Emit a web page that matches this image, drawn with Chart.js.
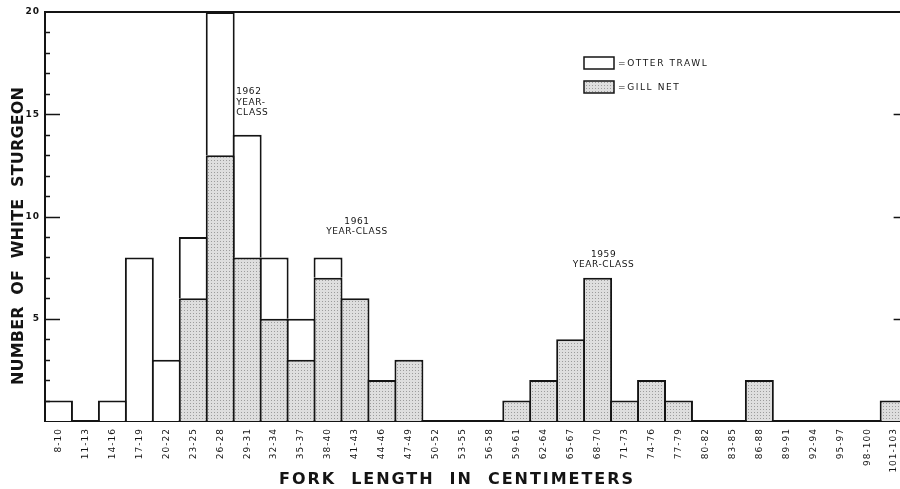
<!DOCTYPE html>
<html>
<head>
<meta charset="utf-8">
<script src="https://cdn.jsdelivr.net/npm/chart.js@4/dist/chart.umd.min.js"></script>
<style>
  html, body { margin: 0; padding: 0; background: #fff; overflow: hidden; }
  #wrap { position: relative; width: 912px; height: 489px; }
</style>
</head>
<body>
<div id="wrap"><canvas id="sturgeonChart"></canvas></div>
<script>
// fork length classes (cm)
const lengthClasses = ['8-10', '11-13', '14-16', '17-19', '20-22', '23-25', '26-28', '29-31',
  '32-34', '35-37', '38-40', '41-43', '44-46', '47-49', '50-52', '53-55', '56-58', '59-61',
  '62-64', '65-67', '68-70', '71-73', '74-76', '77-79', '80-82', '83-85', '86-88', '89-91',
  '92-94', '95-97', '98-100', '101-103'];

// number of fish caught, stacked: gill net at the bottom, otter trawl on top
const gillNet = [0, 0, 0, 0, 0, 6, 13, 8, 5, 3, 7, 6, 2, 3, 0, 0, 0, 1, 2, 4, 7, 1, 2, 1, 0, 0, 2, 0, 0, 0, 0, 1];
const otterTrawl = [1, 0, 1, 8, 3, 3, 7, 6, 3, 2, 1, 0, 0, 0, 0, 0, 0, 0, 0, 0, 0, 0, 0, 0, 0, 0, 0, 0, 0, 0, 0, 0];

const yTickLabels = [5, 10, 15, 20];

// year-class notes: category index they sit by, and height in fish
const yearClassNotes = [
  { lines: ['1962', 'YEAR-', 'CLASS'], index: 6, dx: 16, value: 16.1, align: 'left' },
  { lines: ['1961', 'YEAR-CLASS'], index: 11, dx: 2, value: 9.75, align: 'center' },
  { lines: ['1959', 'YEAR-CLASS'], index: 20, dx: 6, value: 8.15, align: 'center' }
];

const ink = '#141414';

function dotPattern() {
  const c = document.createElement('canvas');
  c.width = 3; c.height = 3;
  const g = c.getContext('2d');
  g.fillStyle = '#dedede';
  g.fillRect(0, 0, 3, 3);
  g.fillStyle = '#9c9c9c';
  g.fillRect(1, 1, 1, 1);
  return g.createPattern(c, 'repeat');
}
const gillFill = dotPattern();

// zero counts draw nothing
const noZero = arr => arr.map(v => (v === 0 ? null : v));

function spacedText(ctx, text, cx, cy, width) {
  ctx.letterSpacing = '0px';
  const raw = ctx.measureText(text).width;
  const sp = (width - raw) / (text.length - 1);
  ctx.letterSpacing = sp + 'px';
  ctx.textAlign = 'left';
  ctx.fillText(text, cx - width / 2, cy);
}

const decorPlugin = {
  id: 'decor',
  beforeDraw(chart) {
    chart.ctx.letterSpacing = '1px';
  },
  afterDraw(chart) {
    const { ctx, chartArea: a, scales: { x, y } } = chart;
    ctx.save();
    ctx.letterSpacing = '0px';
    ctx.strokeStyle = ink;
    ctx.lineWidth = 2;
    // top and right frame
    ctx.beginPath();
    ctx.moveTo(a.left, a.top);
    ctx.lineTo(a.right, a.top);
    ctx.lineTo(a.right, a.bottom);
    ctx.stroke();
    // inward ticks
    ctx.lineWidth = 1.5;
    for (let v = 1; v < 20; v++) {
      const py = Math.round(y.getPixelForValue(v)) + 0.5;
      const major = v % 5 === 0;
      ctx.beginPath();
      ctx.moveTo(a.left, py);
      ctx.lineTo(a.left + (major ? 15 : 5), py);
      if (major) {
        ctx.moveTo(a.right, py);
        ctx.lineTo(a.right - 14, py);
      }
      ctx.stroke();
    }

    ctx.fillStyle = ink;
    ctx.textBaseline = 'middle';

    // year-class notes
    ctx.font = '9px "DejaVu Sans"';
    ctx.letterSpacing = '0.6px';
    yearClassNotes.forEach(n => {
      const px = x.getPixelForValue(n.index) + n.dx;
      const py = y.getPixelForValue(n.value);
      ctx.textAlign = n.align;
      n.lines.forEach((t, i) => ctx.fillText(t, px, py + i * 10.5));
    });

    // legend
    const boxes = [
      { ds: chart.data.datasets[1], top: 57 },
      { ds: chart.data.datasets[0], top: 81 }
    ];
    ctx.textAlign = 'left';
    ctx.letterSpacing = '1.6px';
    boxes.forEach(b => {
      ctx.fillStyle = b.ds.backgroundColor;
      ctx.fillRect(584, b.top, 30, 12);
      ctx.lineWidth = 1.5;
      ctx.strokeStyle = ink;
      ctx.strokeRect(584, b.top, 30, 12);
      ctx.fillStyle = ink;
      ctx.fillText('=' + b.ds.label, 618, b.top + 6.5);
    });

    // axis titles
    ctx.font = 'bold 16px "DejaVu Sans"';
    ctx.textBaseline = 'middle';
    spacedText(ctx, 'FORK  LENGTH  IN  CENTIMETERS', 456, 480, 354);
    ctx.translate(19, 236);
    ctx.rotate(-Math.PI / 2);
    spacedText(ctx, 'NUMBER  OF  WHITE  STURGEON', 0, 0, 298);
    ctx.restore();
    ctx.letterSpacing = '0px';
  }
};

const ctx = document.getElementById('sturgeonChart').getContext('2d');
const sturgeonChart = new Chart(ctx, {
  type: 'bar',
  data: {
    labels: lengthClasses,
    datasets: [{
      label: 'GILL NET',
      data: noZero(gillNet),
      backgroundColor: gillFill,
      borderColor: ink,
      borderWidth: 2
    }, {
      label: 'OTTER TRAWL',
      data: noZero(otterTrawl),
      backgroundColor: '#ffffff',
      borderColor: ink,
      borderWidth: 2
    }]
  },
  options: {
    responsive: true,
    maintainAspectRatio: false,
    animation: false,
    events: [],
    layout: { padding: { top: 12, right: 3, left: 0, bottom: 0 } },
    datasets: {
      bar: { categoryPercentage: 1, barPercentage: 29 / 27, borderSkipped: 'start' }
    },
    plugins: {
      legend: { display: false },
      tooltip: { enabled: false }
    },
    scales: {
      x: {
        stacked: true,
        grid: { display: false, drawTicks: false },
        border: { display: true, color: ink, width: 2 },
        ticks: {
          color: ink,
          font: { family: 'DejaVu Sans', size: 9 },
          minRotation: 90,
          maxRotation: 90,
          autoSkip: false,
          padding: 7
        },
        afterFit(scale) { scale.height = 68; }
      },
      y: {
        stacked: true,
        min: 0,
        max: 20,
        grid: { display: false, drawTicks: false },
        border: { display: true, color: ink, width: 2 },
        ticks: {
          stepSize: 5,
          color: ink,
          font: { family: 'DejaVu Sans', size: 9, weight: 'bold' },
          padding: 5,
          callback: v => (yTickLabels.includes(v) ? v : '')
        },
        afterFit(scale) { scale.width = 45; }
      }
    }
  },
  plugins: [decorPlugin]
});
</script>
</body>
</html>
